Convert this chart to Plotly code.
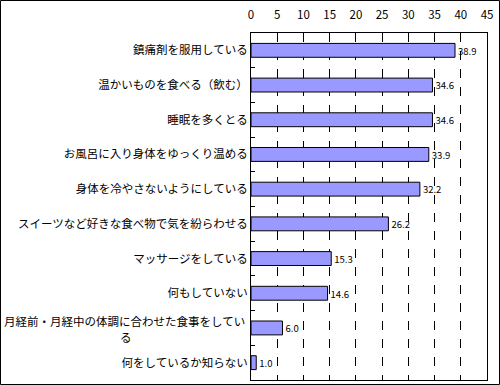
import plotly.graph_objects as go

categories = [
    "鎮痛剤を服用している",
    "温かいものを食べる（飲む）",
    "睡眠を多くとる",
    "お風呂に入り身体をゆっくり温める",
    "身体を冷やさないようにしている",
    "スイーツなど好きな食べ物で気を紛らわせる",
    "マッサージをしている",
    "何もしていない",
    "月経前・月経中の体調に合わせた食事をしている",
    "何をしているか知らない",
]
# the long label is written on two lines, as in the source
long_label_lines = ["月経前・月経中の体調に合わせた食事をしてい", "る"]
values = [38.9, 34.6, 34.6, 33.9, 32.2, 26.2, 15.3, 14.6, 6.0, 1.0]
tick_vals = [0, 5, 10, 15, 20, 25, 30, 35, 40, 45]

W, H = 500, 385
L, R, T, B = 251, 13, 33, 5
pw, ph = W - L - R, H - T - B
FS = 11.5

long_cat = "".join(long_label_lines)
ticktext = ["" if c == long_cat else c for c in categories]

fig = go.Figure(go.Bar(
    x=values, y=categories, orientation="h",
    marker=dict(color="#9999FF", line=dict(color="black", width=1)),
    width=0.4,
    texttemplate="%{x:.1f}", textposition="outside",
    textfont=dict(size=11, color="black", family="Noto Sans CJK JP"),
    cliponaxis=False,
))

annotations = [
    dict(x=-5 / pw, xref="paper", xanchor="right", y=long_cat, yref="y", yshift=7,
         text=long_label_lines[0], showarrow=False, font=dict(size=FS, color="black"),
         borderpad=0),
    dict(x=(126 - L) / pw, xref="paper", xanchor="center", y=long_cat, yref="y", yshift=-9,
         text=long_label_lines[1], showarrow=False, font=dict(size=FS, color="black"),
         borderpad=0),
]

fig.update_layout(
    width=W, height=H,
    margin=dict(l=L, r=R, t=T, b=B),
    paper_bgcolor="white", plot_bgcolor="white",
    font=dict(family="Noto Sans CJK JP", size=FS, color="black"),
    showlegend=False,
    xaxis=dict(side="top", range=[0, 45], tickvals=tick_vals,
               showgrid=True, gridcolor="black", griddash="dash", gridwidth=1,
               showline=True, linecolor="black", linewidth=1, mirror=True,
               ticks="outside", ticklen=8, tickcolor="rgba(0,0,0,0)",
               zeroline=False, tickfont=dict(size=FS)),
    yaxis=dict(autorange="reversed", showline=True, linecolor="black",
               linewidth=1, mirror=True, ticks="inside", ticklen=4,
               tickson="boundaries", tickcolor="black", showgrid=False,
               tickmode="array", tickvals=categories, ticktext=ticktext,
               tickfont=dict(size=FS)),
    annotations=annotations,
    shapes=[dict(type="rect", xref="paper", yref="paper",
                 x0=(0.5 - L) / pw, x1=(W - 0.5 - L) / pw,
                 y0=(H - B - (H - 0.5)) / ph, y1=(H - B - 0.5) / ph,
                 line=dict(color="black", width=1), fillcolor="rgba(0,0,0,0)")],
)

fig.write_html("out.html", config={"displayModeBar": False},
               post_script="document.body.style.margin='0';document.body.style.overflow='hidden';")
